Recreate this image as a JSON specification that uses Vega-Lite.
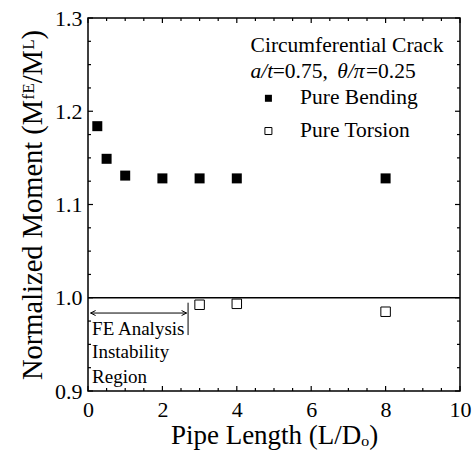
{
  "$schema": "https://vega.github.io/schema/vega-lite/v6.json",
  "width": 372,
  "height": 373,
  "autosize": "none",
  "padding": {"left": 88, "top": 18, "right": 16, "bottom": 64},
  "background": "white",
  "config": {
    "font": "Liberation Serif",
    "view": {"stroke": "black", "strokeWidth": 1.5},
    "axis": {
      "labelFont": "Liberation Serif",
      "titleFont": "Liberation Serif",
      "labelFontSize": 22,
      "titleFontSize": 27,
      "titleFontWeight": "normal",
      "labelColor": "black",
      "titleColor": "black",
      "domain": false,
      "ticks": false,
      "grid": false
    }
  },
  "datasets": {
    "points": [
      {"L": 0.25, "M": 1.184, "series": "Pure Bending"},
      {"L": 0.5, "M": 1.149, "series": "Pure Bending"},
      {"L": 1, "M": 1.131, "series": "Pure Bending"},
      {"L": 2, "M": 1.128, "series": "Pure Bending"},
      {"L": 3, "M": 1.128, "series": "Pure Bending"},
      {"L": 4, "M": 1.128, "series": "Pure Bending"},
      {"L": 8, "M": 1.128, "series": "Pure Bending"},
      {"L": 3, "M": 0.9925, "series": "Pure Torsion"},
      {"L": 4, "M": 0.9935, "series": "Pure Torsion"},
      {"L": 8, "M": 0.985, "series": "Pure Torsion"}
    ],
    "xticks": [
      {"v": 0, "major": true}, {"v": 0.5, "major": false}, {"v": 1, "major": false}, {"v": 1.5, "major": false},
      {"v": 2, "major": true}, {"v": 2.5, "major": false}, {"v": 3, "major": false}, {"v": 3.5, "major": false},
      {"v": 4, "major": true}, {"v": 4.5, "major": false}, {"v": 5, "major": false}, {"v": 5.5, "major": false},
      {"v": 6, "major": true}, {"v": 6.5, "major": false}, {"v": 7, "major": false}, {"v": 7.5, "major": false},
      {"v": 8, "major": true}, {"v": 8.5, "major": false}, {"v": 9, "major": false}, {"v": 9.5, "major": false},
      {"v": 10, "major": true}
    ],
    "yticks": [
      {"v": 0.9, "major": true}, {"v": 0.925, "major": false}, {"v": 0.95, "major": false}, {"v": 0.975, "major": false},
      {"v": 1.0, "major": true}, {"v": 1.025, "major": false}, {"v": 1.05, "major": false}, {"v": 1.075, "major": false},
      {"v": 1.1, "major": true}, {"v": 1.125, "major": false}, {"v": 1.15, "major": false}, {"v": 1.175, "major": false},
      {"v": 1.2, "major": true}, {"v": 1.225, "major": false}, {"v": 1.25, "major": false}, {"v": 1.275, "major": false},
      {"v": 1.3, "major": true}
    ],
    "notes": [
      {"x": 0.11, "y": 0.960, "text": "FE Analysis", "size": 19},
      {"x": 0.11, "y": 0.9354, "text": "Instability", "size": 19},
      {"x": 0.11, "y": 0.9086, "text": "Region", "size": 19},
      {"x": 4.37, "y": 1.2639, "text": "Circumferential Crack", "size": 21.5},
      {"x": 5.70, "y": 1.2078, "text": "Pure Bending", "size": 21.5},
      {"x": 5.70, "y": 1.172, "text": "Pure Torsion", "size": 21.5}
    ],
    "italicNotes": [
      {"x": 4.371, "y": 1.2353, "text": "a/t"},
      {"x": 6.702, "y": 1.2353, "text": "θ/π"}
    ],
    "plainNotes": [
      {"x": 4.965, "y": 1.2353, "text": "=0.75,"},
      {"x": 7.473, "y": 1.2353, "text": "=0.25"}
    ],
    "legendMarks": [
      {"x": 4.85, "y": 1.2139, "series": "Pure Bending"},
      {"x": 4.85, "y": 1.1788, "series": "Pure Torsion"}
    ]
  },
  "layer": [
    {
      "data": {"name": "points"},
      "transform": [{"filter": "datum.series === 'Pure Bending'"}],
      "mark": {"type": "point", "shape": "square", "filled": true, "color": "black", "size": 100, "opacity": 1},
      "encoding": {
        "x": {
          "field": "L", "type": "quantitative",
          "scale": {"domain": [0, 10], "nice": false, "zero": false},
          "axis": {
            "orient": "bottom",
            "values": [0, 2, 4, 6, 8, 10],
            "format": "d",
            "labelPadding": 8,
            "labelFlush": false,
            "labelOverlap": false,
            "title": "Pipe Length (L/Dₒ)",
            "titlePadding": 2
          }
        },
        "y": {
          "field": "M", "type": "quantitative",
          "scale": {"domain": [0.9, 1.3], "nice": false, "zero": false},
          "axis": {
            "orient": "left",
            "values": [0.9, 1.0, 1.1, 1.2, 1.3],
            "format": ".1f",
            "labelPadding": 6,
            "labelFlush": false,
            "labelOverlap": false,
            "title": "Normalized Moment (Mᶠᴱ/Mᴸ)",
            "titleFontSize": 28.5,
            "titlePadding": 7
          }
        }
      }
    },
    {
      "data": {"name": "points"},
      "transform": [{"filter": "datum.series === 'Pure Torsion'"}],
      "mark": {"type": "point", "shape": "square", "filled": false, "stroke": "black", "fill": "white", "strokeWidth": 1, "size": 90, "opacity": 1},
      "encoding": {
        "x": {"field": "L", "type": "quantitative"},
        "y": {"field": "M", "type": "quantitative"}
      }
    },
    {
      "data": {"name": "xticks"},
      "transform": [{"filter": "datum.major"}],
      "layer": [
        {"mark": {"type": "rule", "color": "black", "strokeWidth": 1.2},
         "encoding": {"x": {"field": "v", "type": "quantitative"}, "y": {"datum": 0.9, "type": "quantitative"}, "y2": {"datum": 0.90536}}},
        {"mark": {"type": "rule", "color": "black", "strokeWidth": 1.2},
         "encoding": {"x": {"field": "v", "type": "quantitative"}, "y": {"datum": 1.3, "type": "quantitative"}, "y2": {"datum": 1.29464}}}
      ]
    },
    {
      "data": {"name": "xticks"},
      "transform": [{"filter": "!datum.major"}],
      "layer": [
        {"mark": {"type": "rule", "color": "black", "strokeWidth": 1.2},
         "encoding": {"x": {"field": "v", "type": "quantitative"}, "y": {"datum": 0.9, "type": "quantitative"}, "y2": {"datum": 0.9032}}},
        {"mark": {"type": "rule", "color": "black", "strokeWidth": 1.2},
         "encoding": {"x": {"field": "v", "type": "quantitative"}, "y": {"datum": 1.3, "type": "quantitative"}, "y2": {"datum": 1.2968}}}
      ]
    },
    {
      "data": {"name": "yticks"},
      "transform": [{"filter": "datum.major"}],
      "layer": [
        {"mark": {"type": "rule", "color": "black", "strokeWidth": 1.2},
         "encoding": {"y": {"field": "v", "type": "quantitative"}, "x": {"datum": 0, "type": "quantitative"}, "x2": {"datum": 0.1344}}},
        {"mark": {"type": "rule", "color": "black", "strokeWidth": 1.2},
         "encoding": {"y": {"field": "v", "type": "quantitative"}, "x": {"datum": 10, "type": "quantitative"}, "x2": {"datum": 9.8656}}}
      ]
    },
    {
      "data": {"name": "yticks"},
      "transform": [{"filter": "!datum.major"}],
      "layer": [
        {"mark": {"type": "rule", "color": "black", "strokeWidth": 1.2},
         "encoding": {"y": {"field": "v", "type": "quantitative"}, "x": {"datum": 0, "type": "quantitative"}, "x2": {"datum": 0.0806}}},
        {"mark": {"type": "rule", "color": "black", "strokeWidth": 1.2},
         "encoding": {"y": {"field": "v", "type": "quantitative"}, "x": {"datum": 10, "type": "quantitative"}, "x2": {"datum": 9.9194}}}
      ]
    },
    {
      "data": {"values": [{"y": 1.0}]},
      "mark": {"type": "rule", "color": "black", "strokeWidth": 1.5},
      "encoding": {"y": {"field": "y", "type": "quantitative"}}
    },
    {
      "data": {"values": [{"x": 0.07, "x2": 2.65, "y": 0.9836}]},
      "mark": {"type": "rule", "color": "black", "strokeWidth": 1},
      "encoding": {
        "x": {"field": "x", "type": "quantitative"},
        "x2": {"field": "x2"},
        "y": {"field": "y", "type": "quantitative"}
      }
    },
    {
      "data": {"values": [{"x": 2.69, "y": 0.9947, "y2": 0.960}]},
      "mark": {"type": "rule", "color": "black", "strokeWidth": 1},
      "encoding": {
        "x": {"field": "x", "type": "quantitative"},
        "y": {"field": "y", "type": "quantitative"},
        "y2": {"field": "y2"}
      }
    },
    {
      "data": {"values": [{"x": 2.65, "y": 0.9836}]},
      "mark": {"type": "point", "shape": "M-1,-0.5L0,0L-1,0.5", "filled": false, "stroke": "black", "strokeWidth": 1, "size": 100, "opacity": 1},
      "encoding": {
        "x": {"field": "x", "type": "quantitative"},
        "y": {"field": "y", "type": "quantitative"}
      }
    },
    {
      "data": {"values": [{"x": 0.07, "y": 0.9836}]},
      "mark": {"type": "point", "shape": "M1,-0.5L0,0L1,0.5", "filled": false, "stroke": "black", "strokeWidth": 1, "size": 100, "opacity": 1},
      "encoding": {
        "x": {"field": "x", "type": "quantitative"},
        "y": {"field": "y", "type": "quantitative"}
      }
    },
    {
      "data": {"name": "notes"},
      "mark": {"type": "text", "align": "left", "baseline": "alphabetic", "color": "black", "font": "Liberation Serif"},
      "encoding": {
        "x": {"field": "x", "type": "quantitative"},
        "y": {"field": "y", "type": "quantitative"},
        "text": {"field": "text"},
        "size": {"field": "size", "type": "quantitative", "scale": null}
      }
    },
    {
      "data": {"name": "italicNotes"},
      "mark": {"type": "text", "align": "left", "baseline": "alphabetic", "color": "black", "font": "Liberation Serif", "fontStyle": "italic", "fontSize": 21.5},
      "encoding": {
        "x": {"field": "x", "type": "quantitative"},
        "y": {"field": "y", "type": "quantitative"},
        "text": {"field": "text"}
      }
    },
    {
      "data": {"name": "plainNotes"},
      "mark": {"type": "text", "align": "left", "baseline": "alphabetic", "color": "black", "font": "Liberation Serif", "fontSize": 21.5},
      "encoding": {
        "x": {"field": "x", "type": "quantitative"},
        "y": {"field": "y", "type": "quantitative"},
        "text": {"field": "text"}
      }
    },
    {
      "data": {"name": "legendMarks"},
      "transform": [{"filter": "datum.series === 'Pure Bending'"}],
      "mark": {"type": "point", "shape": "square", "filled": true, "color": "black", "size": 49, "opacity": 1},
      "encoding": {
        "x": {"field": "x", "type": "quantitative"},
        "y": {"field": "y", "type": "quantitative"}
      }
    },
    {
      "data": {"name": "legendMarks"},
      "transform": [{"filter": "datum.series === 'Pure Torsion'"}],
      "mark": {"type": "point", "shape": "square", "filled": false, "stroke": "black", "fill": "white", "strokeWidth": 1, "size": 49, "opacity": 1},
      "encoding": {
        "x": {"field": "x", "type": "quantitative"},
        "y": {"field": "y", "type": "quantitative"}
      }
    }
  ]
}
